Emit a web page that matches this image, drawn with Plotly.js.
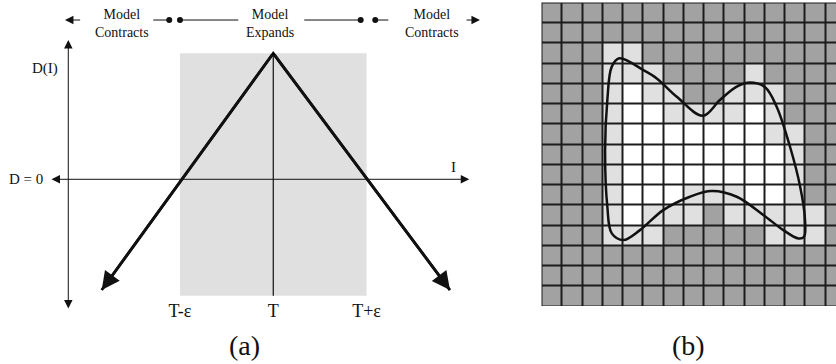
<!DOCTYPE html>
<html>
<head>
<meta charset="utf-8">
<script src="https://cdn.plot.ly/plotly-3.0.1.min.js"></script>
<style>
  html, body { margin: 0; padding: 0; background: #fff; }
  #chart { width: 836px; height: 364px; }
</style>
</head>
<body>
<div id="chart"></div>
<script>
// (a) expand/contract rule around the threshold T, (b) pixel grid with traced outline
const FONT = 'Liberation Serif, Times New Roman, serif';
const INK = '#111';

// --- panel (a) values, in units of ε about T (x) and D(I) (y) ---
const tickVals = [-1, 0, 1];
const tickText = ['T-ε', 'T', 'T+ε'];
const vX = [-1.839, 0, 1.894];          // D(I) falls off both sides of T
const vY = [-0.879, 1, -0.879];
const bandX = [-1, 1];                  // region where the model expands
const bandY = [-0.924, 1];
const axisIX = [-2.393, 2.101];         // I axis (D = 0)
const axisDY = [-1.037, 1.106];         // D axis
const axisDX = -2.197;
const topY = 1.264;
const segFrom = [-1.286, -1.0, 0.332, 1.093];
const segTo = [-1.115, -0.375, 0.937, 1.233];
const dotX = [-1.115, -1.0, 0.937, 1.093];
const outTail = [-2.054, 2.055];
const outHead = [-2.233, 2.215];
const regionX = [-1.625, -0.04, 1.704];
const regionText = ['Model<br>Contracts', 'Model<br>Expands', 'Model<br>Contracts'];

// --- panel (b) values: 0 outside, 1 boundary, 2 inside ---
const cellRows = [
  '000000000000000',
  '000000000000000',
  '000110000000000',
  '000111000010000',
  '000121100111000',
  '000122111121000',
  '000122222221100',
  '000122222222100',
  '000122222222100',
  '000122211122100',
  '000121110111110',
  '000111000001110',
  '000000000000000',
  '000000000000000',
  '000000000000000',
];
const curveX = [3.34, 4.53, 5.19, 6.18, 7.46, 8.31, 9.14, 9.80, 10.54, 11.11, 11.77, 12.27, 12.51, 12.46,
  12.18, 11.44, 10.45, 9.14, 7.90, 6.83, 5.51, 4.36, 3.54, 2.97, 2.75, 2.64, 2.75, 2.97, 3.34];
const curveY = [2.26, 2.84, 3.25, 4.16, 5.10, 4.32, 3.66, 3.46, 3.69, 4.65, 6.63, 8.60, 10.25, 11.08,
  11.16, 10.75, 10.00, 9.10, 8.82, 9.10, 9.76, 10.75, 11.24, 10.91, 9.59, 6.79, 4.32, 2.67, 2.26];

const z = cellRows.map(r => r.split('').map(Number));
const cols = z[0].map((_, i) => i);
const rows = z.map((_, i) => i);

const segXs = [], segYs = [];
segFrom.forEach((x0, i) => { segXs.push(x0, segTo[i], null); segYs.push(topY, topY, null); });

const traces = [
  { x: [bandX[0], bandX[1], bandX[1], bandX[0], bandX[0]], y: [bandY[0], bandY[0], bandY[1], bandY[1], bandY[0]],
    mode: 'lines', fill: 'toself', fillcolor: '#dfe0df', line: { width: 0 }, hoverinfo: 'skip' },
  { x: [0, 0], y: bandY, mode: 'lines', line: { color: INK, width: 1.2 }, hoverinfo: 'skip' },
  { x: vX, y: vY, mode: 'lines', line: { color: '#000', width: 2.8 }, hoverinfo: 'skip' },
  { x: segXs, y: segYs, mode: 'lines', line: { color: INK, width: 1 }, hoverinfo: 'skip' },
  { x: dotX, y: dotX.map(() => topY), mode: 'markers', marker: { color: INK, size: 6 }, hoverinfo: 'skip' },
  // panel (b)
  { type: 'heatmap', x: cols, y: rows, z: z, xaxis: 'x2', yaxis: 'y2', zmin: 0, zmax: 2,
    colorscale: [[0, '#a2a2a2'], [0.5, '#dfe0df'], [1, '#ffffff']], showscale: false,
    xgap: 2, ygap: 2, hoverinfo: 'skip' },
  { x: curveX, y: curveY, xaxis: 'x2', yaxis: 'y2', mode: 'lines',
    line: { color: '#111', width: 2.5, shape: 'spline', smoothing: 1 }, hoverinfo: 'skip' },
];

const arrow = (x, y, ax, ay, w, size, both) => ({
  x, y, ax, ay, xref: 'x', yref: 'y', axref: 'x', ayref: 'y', text: '', showarrow: true,
  arrowhead: 2, arrowsize: size, arrowwidth: w, arrowcolor: INK,
  arrowside: both ? 'end+start' : 'end', startarrowhead: 2, startarrowsize: size,
});
const label = (x, y, text, size, extra) => Object.assign({
  x, y, xref: 'x', yref: 'y', text, showarrow: false, font: { family: FONT, size, color: INK },
}, extra || {});
const panelTag = (x, text) => ({
  x, y: 19 / 364, xref: 'paper', yref: 'paper', xanchor: 'center', yanchor: 'middle',
  text, showarrow: false, font: { family: FONT, size: 28, color: INK },
});

const annotations = [
  arrow(axisIX[1], 0, axisIX[0], 0, 1, 1.7, true),
  arrow(axisDX, axisDY[1], axisDX, axisDY[0], 1, 1.7, true),
  arrow(vX[0], vY[0], vX[1], vY[1], 2.8, 1.3, false),
  arrow(vX[2], vY[2], vX[1], vY[1], 2.8, 1.3, false),
  arrow(outHead[0], topY, outTail[0], topY, 1, 1.7, false),
  arrow(outHead[1], topY, outTail[1], topY, 1, 1.7, false),
  ...regionX.map((x, i) => label(x, 1.237, regionText[i], 14)),
  label(-2.449, 0.881, 'D(I)', 15),
  label(-2.447, 0, 'D = 0', 15, { xanchor: 'right' }),
  label(1.929, 0.095, 'I', 15),
  panelTag(244 / 836, '(a)'),
  panelTag(688 / 836, '(b)'),
];

const hidden = { showgrid: false, zeroline: false, showline: false, showticklabels: false, ticks: '', fixedrange: true };

const layout = {
  width: 836, height: 364, margin: { l: 0, r: 0, t: 0, b: 0 },
  paper_bgcolor: '#fff', plot_bgcolor: '#fff', showlegend: false,
  xaxis: { domain: [0, 540 / 836], range: [-2.929, 2.859], anchor: 'free', position: 66 / 364,
    tickvals: tickVals, ticktext: tickText, ticks: '', showgrid: false, zeroline: false, showline: false,
    tickfont: { family: FONT, size: 18, color: INK }, fixedrange: true },
  yaxis: Object.assign({ domain: [0, 1], range: [-1.466, 1.423] }, hidden),
  xaxis2: Object.assign({ domain: [541.5 / 836, 1], range: [-0.5, 14.04], anchor: 'y2' }, hidden),
  yaxis2: Object.assign({ domain: [58 / 364, 361.5 / 364], range: [14.5, -0.5], anchor: 'x2' }, hidden),
  shapes: [{ type: 'rect', xref: 'x2 domain', yref: 'y2 domain', x0: 0, x1: 1, y0: 0, y1: 1,
    fillcolor: '#1c1c1c', line: { width: 0 }, layer: 'below' }],
  annotations,
};

Plotly.newPlot('chart', traces, layout, { displayModeBar: false, staticPlot: true });
</script>
</body>
</html>
